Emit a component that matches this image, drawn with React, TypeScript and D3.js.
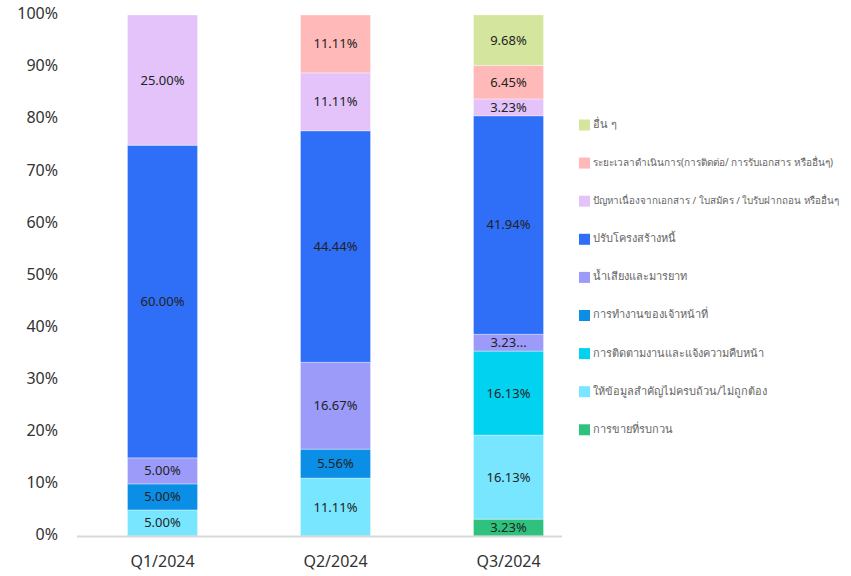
import React, { useEffect, useRef } from "react";
import * as d3 from "d3";

const categories = ["Q1/2024", "Q2/2024", "Q3/2024"];
// bottom to top stacking order
const seriesNames = [
  "การขายที่รบกวน",
  "ให้ข้อมูลสำคัญไม่ครบถ้วน/ไม่ถูกต้อง",
  "การติดตามงานและแจ้งความคืบหน้า",
  "การทำงานของเจ้าหน้าที่",
  "น้ำเสียงและมารยาท",
  "ปรับโครงสร้างหนี้",
  "ปัญหาเนื่องจากเอกสาร / ใบสมัคร / ใบรับฝากถอน หรืออื่นๆ",
  "ระยะเวลาดำเนินการ(การติดต่อ/ การรับเอกสาร หรืออื่นๆ)",
  "อื่น ๆ",
];
const seriesColors = [
  "#2ec27e",
  "#78e6ff",
  "#00d2f0",
  "#0b8ee6",
  "#9c9bfa",
  "#2f6ef7",
  "#e3c3fa",
  "#ffb9b9",
  "#d4e69e",
];
const q1Values = [0, 5.0, 0, 5.0, 5.0, 60.0, 25.0, 0, 0];
const q2Values = [0, 11.11, 0, 5.56, 16.67, 44.44, 11.11, 11.11, 0];
const q3Values = [3.23, 16.13, 16.13, 0, 3.23, 41.94, 3.23, 6.45, 9.68];
const truncatedLabels = [{ cat: 2, series: 4, text: "3.23..." }];
const yTicks = [0, 10, 20, 30, 40, 50, 60, 70, 80, 90, 100];

const font = "'Noto Sans', 'Open Sans', sans-serif";

export default function App() {
  const width = 851;
  const height = 576;
  const legendRef = useRef<SVGGElement>(null);
  const values = [q1Values, q2Values, q3Values];
  const rows = categories.map((c, i) => {
    const r: any = { cat: c };
    seriesNames.forEach((s, j) => (r[s] = values[i][j]));
    return r;
  });
  const stack = d3.stack<any>().keys(seriesNames)(rows);

  const x = d3
    .scaleBand<string>()
    .domain(categories)
    .range([76, 595])
    .paddingInner(0.595)
    .paddingOuter(0.2975);
  const y = d3.scaleLinear().domain([0, 100]).range([536, 15]);

  useEffect(() => {
    if (!legendRef.current) return;
    const maxW = 248;
    d3.select(legendRef.current)
      .selectAll<SVGTextElement, unknown>("text")
      .each(function () {
        const w = this.getComputedTextLength();
        if (w > maxW) {
          const fs = Math.floor((11 * maxW * 10) / w) / 10;
          this.setAttribute("font-size", String(fs));
        }
      });
  }, []);

  return (
    <svg width={width} height={height} style={{ display: "block", position: "absolute", left: 0, top: 0 }}>
      <rect width={width} height={height} fill="#fff" />
      {stack.map((layer, si) =>
        layer.map((d, ci) => {
          const v = d[1] - d[0];
          if (v <= 0) return null;
          const x0 = x(categories[ci])!;
          const yTop = y(d[1]);
          const yBot = y(d[0]);
          const tr = truncatedLabels.find((t) => t.cat === ci && t.series === si);
          const label = tr ? tr.text : v.toFixed(2) + "%";
          return (
            <g key={si + "-" + ci}>
              <rect x={x0} y={yTop} width={x.bandwidth()} height={yBot - yTop} fill={seriesColors[si]} stroke="#fff" strokeOpacity={0.35} strokeWidth={1} />
              <text
                x={x0 + x.bandwidth() / 2}
                y={(yTop + yBot) / 2 + 1}
                textAnchor="middle"
                dominantBaseline="middle"
                fontSize={13}
                fontFamily={font}
                fill="#222"
              >
                {label}
              </text>
            </g>
          );
        })
      )}
      <line x1={77} x2={562} y1={536.5} y2={536.5} stroke="#d9d9d9" strokeWidth={2} />
      {yTicks.map((t) => (
        <text key={t} x={58} y={y(t)} textAnchor="end" dominantBaseline="middle" fontSize={16} fontFamily={font} fill="#333">
          {t + "%"}
        </text>
      ))}
      {categories.map((c) => (
        <text key={c} x={x(c)! + x.bandwidth() / 2} y={563} textAnchor="middle" dominantBaseline="middle" fontSize={16} fontFamily={font} fill="#333">
          {c}
        </text>
      ))}
      <g ref={legendRef}>
        {seriesNames
          .slice()
          .reverse()
          .map((s, i) => {
            const si = seriesNames.length - 1 - i;
            const yy = 125 + i * 38.1;
            return (
              <g key={s}>
                <rect x={579} y={yy - 5.5} width={11} height={11} fill={seriesColors[si]} />
                <text x={593} y={yy} dominantBaseline="middle" fontSize={11} fontFamily={font} fill="#666">
                  {s}
                </text>
              </g>
            );
          })}
      </g>
    </svg>
  );
}
